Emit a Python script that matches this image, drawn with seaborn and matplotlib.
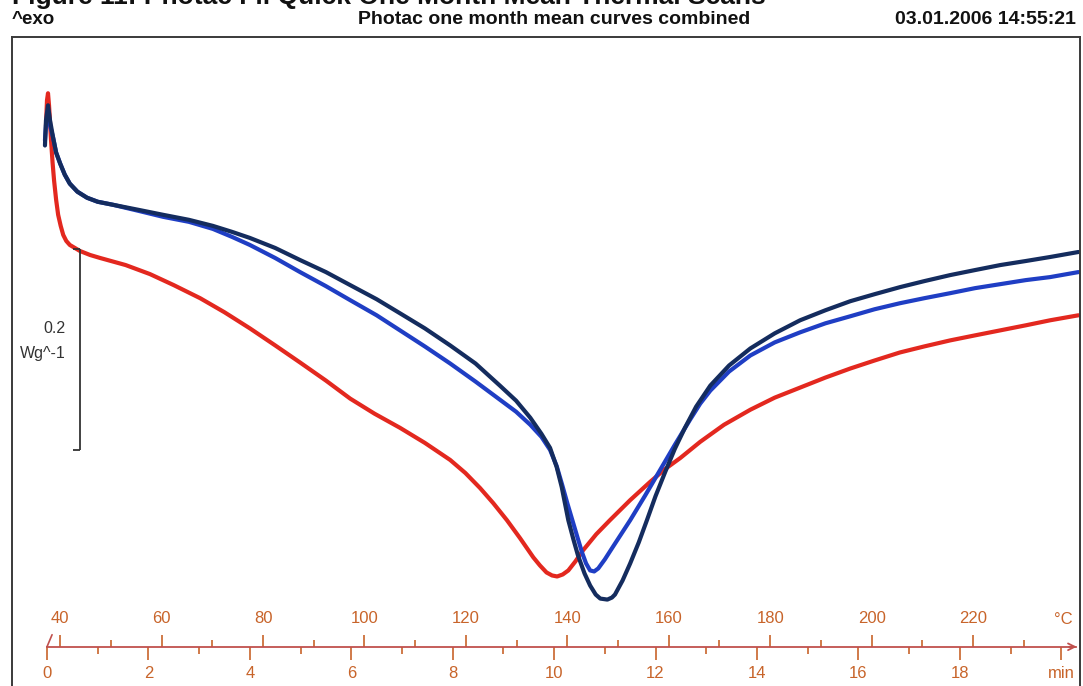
import numpy as np
import pandas as pd
import matplotlib
matplotlib.use('Agg')
import matplotlib.pyplot as plt
import seaborn as sns

# heat flow (W/g, arbitrary offset) against time (min)
red_t = [-0.02, 0.00, 0.02, 0.04, 0.06, 0.08, 0.11, 0.14, 0.18, 0.22, 0.27, 0.32, 0.38, 0.45,
         0.55, 0.65, 0.85, 1.05, 1.55, 2.03, 2.50, 3.02, 3.50, 4.00, 4.50, 4.99, 5.50, 5.98,
         6.46, 6.96, 7.45, 7.95, 8.25, 8.54, 8.80, 9.07, 9.33, 9.59, 9.72, 9.85, 9.96, 10.06,
         10.17, 10.28, 10.42, 10.57, 10.83, 11.10, 11.50, 11.89, 12.19, 12.49, 12.88, 13.35,
         13.87, 14.35, 14.85, 15.35, 15.84, 16.32, 16.82, 17.30, 17.81, 18.30, 18.80, 19.30,
         19.78, 20.34]
red_hf = [0.572, 0.597, 0.604, 0.592, 0.575, 0.557, 0.535, 0.517, 0.498, 0.483, 0.472, 0.463,
          0.457, 0.453, 0.450, 0.447, 0.443, 0.440, 0.433, 0.424, 0.413, 0.400, 0.386, 0.370,
          0.353, 0.336, 0.318, 0.300, 0.285, 0.271, 0.256, 0.239, 0.226, 0.211, 0.196, 0.179,
          0.161, 0.142, 0.134, 0.127, 0.124, 0.123, 0.125, 0.129, 0.138, 0.149, 0.165, 0.179,
          0.199, 0.217, 0.230, 0.241, 0.257, 0.274, 0.289, 0.301, 0.311, 0.321, 0.330, 0.338,
          0.346, 0.352, 0.358, 0.363, 0.368, 0.373, 0.378, 0.383]

blue_t = [-0.04, -0.02, 0.02, 0.06, 0.12, 0.18, 0.26, 0.35, 0.45, 0.60, 0.79, 1.00, 1.30, 1.80,
          2.29, 2.80, 3.27, 3.65, 4.00, 4.50, 4.99, 5.50, 5.98, 6.50, 6.96, 7.45, 7.95, 8.45,
          8.93, 9.25, 9.53, 9.75, 9.92, 10.05, 10.16, 10.26, 10.36, 10.46, 10.55, 10.63, 10.71,
          10.79, 10.87, 11.00, 11.14, 11.32, 11.50, 11.80, 12.09, 12.38, 12.68, 12.88, 13.08,
          13.45, 13.87, 14.35, 14.85, 15.35, 15.84, 16.32, 16.82, 17.30, 17.81, 18.30, 18.80,
          19.30, 19.78, 20.34]
blue_hf = [0.557, 0.572, 0.584, 0.572, 0.560, 0.545, 0.534, 0.523, 0.514, 0.506, 0.500, 0.496,
           0.493, 0.487, 0.481, 0.476, 0.469, 0.461, 0.453, 0.440, 0.426, 0.412, 0.398, 0.383,
           0.368, 0.352, 0.335, 0.317, 0.299, 0.287, 0.274, 0.262, 0.249, 0.233, 0.214, 0.196,
           0.179, 0.162, 0.147, 0.136, 0.129, 0.128, 0.131, 0.140, 0.151, 0.165, 0.179, 0.204,
           0.229, 0.254, 0.279, 0.295, 0.308, 0.327, 0.343, 0.356, 0.366, 0.375, 0.382, 0.389,
           0.395, 0.400, 0.405, 0.410, 0.414, 0.418, 0.421, 0.426]

navy_t = [-0.04, -0.02, 0.02, 0.06, 0.12, 0.18, 0.26, 0.35, 0.45, 0.60, 0.79, 1.00, 1.30, 1.80,
          2.29, 2.80, 3.27, 3.65, 4.00, 4.50, 4.99, 5.50, 5.98, 6.50, 6.96, 7.45, 7.95, 8.45,
          8.93, 9.25, 9.53, 9.75, 9.92, 10.05, 10.15, 10.28, 10.38, 10.47, 10.60, 10.71, 10.82,
          10.91, 11.05, 11.14, 11.20, 11.35, 11.50, 11.67, 11.83, 12.00, 12.19, 12.38, 12.58,
          12.80, 13.08, 13.45, 13.87, 14.35, 14.85, 15.35, 15.84, 16.32, 16.82, 17.30, 17.81,
          18.30, 18.80, 19.30, 19.78, 20.34]
navy_hf = [0.552, 0.577, 0.592, 0.577, 0.560, 0.545, 0.534, 0.523, 0.514, 0.506, 0.500, 0.496,
           0.493, 0.488, 0.483, 0.478, 0.472, 0.466, 0.460, 0.450, 0.438, 0.426, 0.413, 0.399,
           0.385, 0.370, 0.353, 0.335, 0.313, 0.298, 0.281, 0.265, 0.251, 0.232, 0.212, 0.179,
           0.160, 0.144, 0.126, 0.114, 0.105, 0.101, 0.100, 0.102, 0.105, 0.119, 0.136, 0.157,
           0.179, 0.203, 0.227, 0.250, 0.271, 0.292, 0.313, 0.333, 0.350, 0.365, 0.378, 0.388,
           0.397, 0.404, 0.411, 0.417, 0.423, 0.428, 0.433, 0.437, 0.441, 0.446]

time_ticks = list(range(0, 21, 2))
time_labels = [str(t) for t in time_ticks[:-1]] + ['min']
temp_ticks = list(range(40, 221, 20))

scale_top = 0.449
scale_len = 0.2

df = pd.concat([
    pd.DataFrame({'time': red_t, 'hf': red_hf, 'curve': 'red'}),
    pd.DataFrame({'time': blue_t, 'hf': blue_hf, 'curve': 'blue'}),
    pd.DataFrame({'time': navy_t, 'hf': navy_hf, 'curve': 'navy'}),
])

sns.set_theme(style='white')
plt.rcParams['font.family'] = ['Liberation Sans', 'DejaVu Sans']

axis_col = '#c8642a'
line_col = '#c0504d'
axis_y = 0.053

fig = plt.figure(figsize=(10.83, 6.86), dpi=100)
ax = fig.add_axes([12 / 1083, -6 / 686, 1068 / 1083, 655 / 686])
sns.lineplot(data=df, x='time', y='hf', hue='curve',
             palette={'red': '#e3281f', 'blue': '#1f3ec4', 'navy': '#142c5e'},
             linewidth=3, sort=False, estimator=None, legend=False, ax=ax)

ax.set_xlim(-0.69, 20.37)
ax.set_ylim(0.008, 0.660)
ax.set_xlabel('')
ax.set_ylabel('')
ax.set_yticks([])

for s in ['left', 'right', 'top']:
    ax.spines[s].set_color('#3a3a3a')
    ax.spines[s].set_linewidth(1.4)

# time axis drawn inside the frame
ax.spines['bottom'].set_position(('data', axis_y))
ax.spines['bottom'].set_color(line_col)
ax.spines['bottom'].set_linewidth(1.3)
ax.spines['bottom'].set_bounds(0, 20.3)
ax.set_xticks(time_ticks, time_labels)
ax.set_xticks(range(1, 20, 2), minor=True)
ax.tick_params(axis='x', which='both', direction='out', bottom=True, color=axis_col,
               labelcolor=axis_col, labelsize=12, width=1.2, pad=5)
ax.tick_params(axis='x', which='major', length=9)
ax.tick_params(axis='x', which='minor', length=5)
ax.annotate('', xy=(20.36, axis_y), xytext=(20.1, axis_y), annotation_clip=False,
            arrowprops=dict(arrowstyle='->', color=line_col, lw=1.3, mutation_scale=12))
ax.plot([0, 0.1], [axis_y, axis_y + 0.012], color=line_col, lw=1.2)

# temperature axis on the same line
sec = ax.secondary_xaxis(axis_y, functions=(lambda t: 37.4 + 10 * t, lambda T: (T - 37.4) / 10),
                         transform=ax.transData)
sec.set_alignment('top')
sec.spines['top'].set_visible(False)
sec.set_xticks(temp_ticks, [str(t) for t in temp_ticks])
sec.set_xticks(range(50, 240, 20), minor=True)
sec.tick_params(axis='x', which='both', direction='out', color=axis_col,
                labelcolor=axis_col, labelsize=12, width=1.2, pad=6)
sec.tick_params(axis='x', which='major', length=9)
sec.tick_params(axis='x', which='minor', length=5)
ax.text(20.05, axis_y + 0.027, '°C', ha='center', va='center', fontsize=12, color=axis_col)

# scale bar
ax.vlines(0.65, scale_top - scale_len, scale_top, color='#333333', lw=1.3)
ax.hlines([scale_top, scale_top - scale_len], 0.51, 0.65, color='#333333', lw=1.3)
ax.text(0.37, 0.370, '0.2', ha='right', va='center', fontsize=11.5, color='#333333')
ax.text(0.37, 0.345, 'Wg^-1', ha='right', va='center', fontsize=11.5, color='#333333')

fig.text(0.011, 0.994, 'Figure 11: Photac Fil Quick One Month Mean Thermal Scans',
         ha='left', va='baseline', fontsize=19, fontweight='bold', color='#111111')
fig.text(0.011, 0.972, '^exo', ha='left', va='center', fontsize=13.5, fontweight='bold', color='#111111')
fig.text(0.512, 0.972, 'Photac one month mean curves combined', ha='center', va='center',
         fontsize=14, fontweight='bold', color='#111111')
fig.text(0.9935, 0.972, '03.01.2006 14:55:21', ha='right', va='center', fontsize=14,
         fontweight='bold', color='#111111')

fig.savefig('out.png', dpi=100)
